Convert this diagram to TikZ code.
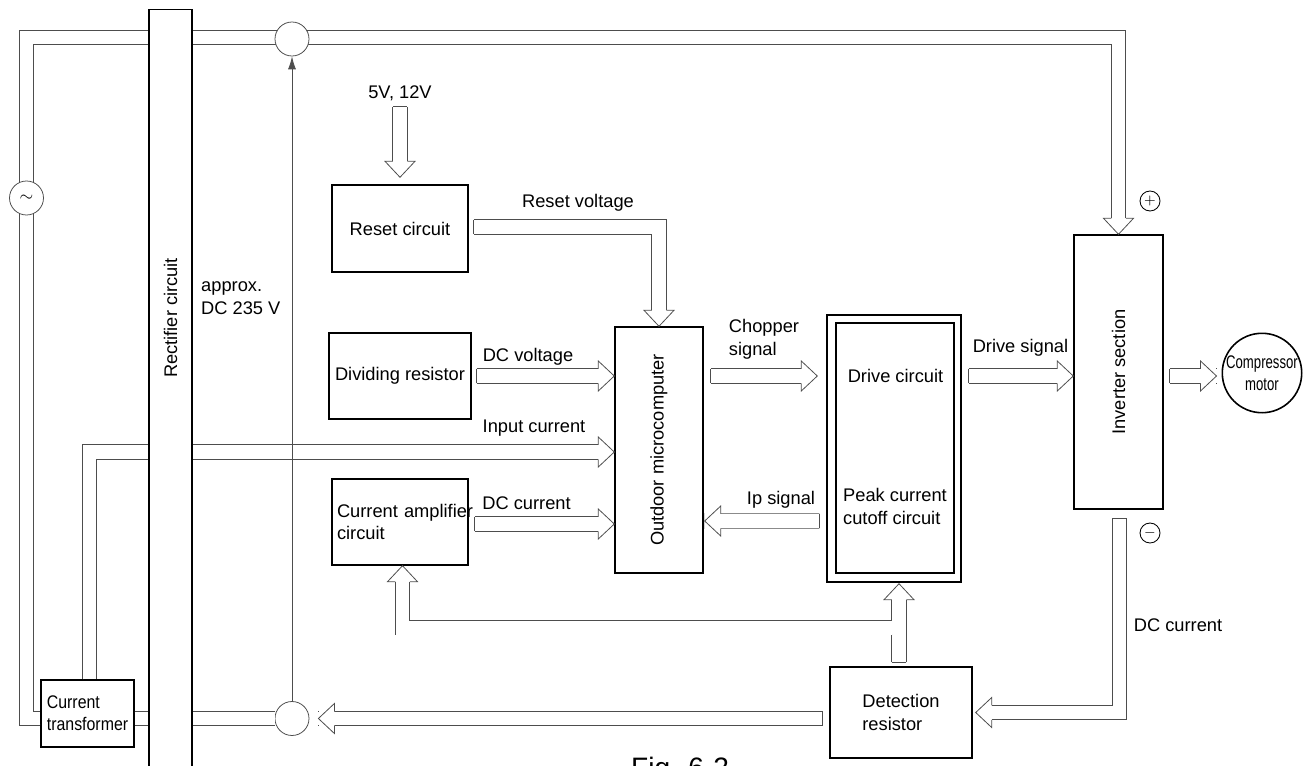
\documentclass[tikz,border=0pt]{standalone}
\usepackage{fontspec}
\usepackage{graphicx}
\setmainfont{Liberation Sans}
\newfontfamily\narrowfont[FakeStretch=0.72]{Liberation Sans}
\newfontfamily\ctfont[FakeStretch=0.87]{Liberation Sans}
\usetikzlibrary{arrows.meta, calc, decorations.markings}
\definecolor{wiregray}{HTML}{4D4D4D}

% hollow arrow head and closed tail of a signal band
\newcommand{\bandhead}{%
  \fill[white] (-3.2mm,-1.8mm) rectangle (-0.15mm,1.8mm);
  \fill[white] (-3.2mm,-3mm) -- (0,0) -- (-3.2mm,3mm) -- cycle;
  \draw[wiregray, line width=0.45pt] (-3.2mm,-1.45mm) -- (-3.2mm,-3mm) -- (0,0)
    -- (-3.2mm,3mm) -- (-3.2mm,1.45mm);}
\newcommand{\bandtail}{%
  \draw[wiregray, line width=0.45pt, line cap=square] (0,-1.45mm) -- (0,1.45mm);}

\begin{document}
\begin{tikzpicture}[x=0.2mm, y=-0.2mm,
  every node/.style={font=\fontsize{10.4}{12.8}\selectfont},
  box/.style={draw, line width=0.8pt, align=center},
  tag/.style={align=left},
  port/.style={draw=wiregray, circle, line width=0.45pt, fill=white,
               minimum size=6.8mm, inner sep=0pt},
  pole/.style={draw, circle, line width=0.5pt, minimum size=4mm, inner sep=0pt,
               font=\footnotesize},
  pipe/.style={draw=wiregray, line width=0.45pt, double=white, double distance=2.74mm},
  flow/.style={pipe, postaction={decorate, decoration={markings,
               mark=at position 1 with {\bandhead}}}},
  sig/.style={flow, postaction={decorate, decoration={markings,
              mark=at position 0 with {\bandtail}}}},
  sense/.style={draw=wiregray, line width=0.45pt, -{Latex[length=2.6mm, width=1.6mm]}},
]
\useasboundingbox (0,0) rectangle (1310,766);
\clip (0,0) rectangle (1310,766);

% blocks
\node[box, minimum width=27.2mm, minimum height=17.4mm] (reset)   at (400,228.5) {Reset circuit};
\node[box, minimum width=27.2mm, minimum height=17.2mm] (divider) at (400,376)   {Dividing resistor};
\node[box, minimum width=27.2mm, minimum height=17.2mm, text width=25.2mm,
      inner sep=1mm, align=left] (amp) at (400,522) {\mbox{Current amplifier}\\circuit};
\node[box, minimum width=17.6mm, minimum height=49.2mm] (micro) at (659,450)
      {\rotatebox{90}{Outdoor microcomputer}};
\node[box, minimum width=26.8mm, minimum height=53.4mm] (drive) at (894,448.5) {};
\node[box, minimum width=23.6mm, minimum height=50mm]   (drvin) at (895,448)   {};
\node[tag] (drvtxt)  at (895.5,376) {Drive circuit};
\node[tag] (peaktxt) at (895,506.5) {Peak current\\cutoff circuit};
\node[box, minimum width=17.8mm, minimum height=54.8mm] (inv) at (1118.5,372)
      {\rotatebox{90}{Inverter section}};
\node[draw, circle, line width=0.9pt, minimum size=15.8mm, inner sep=0pt, align=center,
      font=\narrowfont\fontsize{10.4}{12.5}\selectfont] (comp) at (1262,373) {Compressor\\motor};
\node[box, minimum width=17.8mm, minimum height=13.4mm, align=left,
      font=\ctfont\fontsize{10.4}{12.5}\selectfont] (ct) at (87.5,713.5) {Current\\transformer};
\node[box, minimum width=28.4mm, minimum height=18.2mm, align=left] (det) at (901,712.5)
      {Detection\\resistor};
\node[port] (c2) at (292,718.5) {};

% labels
\node[tag] (vin)    at (400,93)     {5V, 12V};
\node[tag] (resetv) at (578,203)    {Reset voltage};
\node[tag] (dcv)    at (528,357)    {DC voltage};
\node[tag] (inc)    at (534,428)    {Input current};
\node[tag] (dci)    at (526.5,503)  {DC current};
\node[tag] (chop)   at (764,339.5)  {Chopper\\signal};
\node[tag] (ipsig)  at (781,500)    {Ip signal};
\node[tag] (drvsig) at (1020.5,348) {Drive signal};
\node[tag] (dcout)  at (1178,625)   {DC current};
\node[tag, anchor=west] (dcbus) at (195,298) {approx.\\DC 235 V};
\node[pole] (pos) at (1150,201) {$+$};
\node[pole] (neg) at (1150,533) {$-$};

% signal bands
\draw[sig] (vin.south) -- ($(reset.north)+(0,-7)$);
\draw[sig] ($(reset.east)+(5,-1.5)$) -| (micro.north);
\draw[sig] ($(divider.east)+(5,0)$) -- (divider.east -| micro.west);
\draw[flow] ($(ct.north)+(2,0)$) |- ($(micro.west)+(0,2)$);
\draw[sig] ($(amp.east)+(6,2)$) -- ($(amp.east -| micro.west)+(0,2)$);
\draw[sig] ($(micro.east |- drvtxt)+(7,0)$) -- ($(drive.west |- drvtxt)+(-9,0)$);
\draw[sig] ($(drive.west)+(-7,72.5)$) -- ($(micro.east)+(1,71)$);
\draw[sig] ($(drive.east |- drvtxt)+(7,0)$) -- (inv.west |- drvtxt);
\draw[sig] ($(inv.east |- drvtxt)+(6,0)$) -- ($(comp.west |- drvtxt)+(-5,0)$);
\draw[sig] ($(inv.south)+(1,9)$) |- ($(det.east)+(3,0)$);
\draw[sig] ($(det.west)+(-7,6)$) -- ($(c2.east)+(9,0)$);
\draw[sig] ($(det.north)+(-2,-4)$) -- ($(det.north |- drive.south)+(-2,1)$);
\coordinate (tee) at ($(det.north)+(-8.6,-38.5)$);
\draw[flow] (tee) -| ($(amp.south)+(2.5,0)$);

% supply wires
\draw[flow] ($(ct.west)+(0,5)$) -| (26.5,37.5) -| (inv.north);
\draw[pipe] ($(ct.east)+(0,5)$) -- (c2.west);

\node[box, fill=white, minimum width=8.6mm, minimum height=160mm, anchor=north] (rect) at (170.5,9) {};
\node[rotate=90] (recttxt) at (170.5,318) {Rectifier circuit};
\node[port] (c1) at (292,39) {};
\node[port] (ac) at (26.5,198) {$\sim$};
\draw[sense] (c2) -- (c1);

\node[anchor=base west, font=\fontsize{16}{19}\selectfont] (cap) at (625,777) {Fig. 6-2};
\end{tikzpicture}
\end{document}
